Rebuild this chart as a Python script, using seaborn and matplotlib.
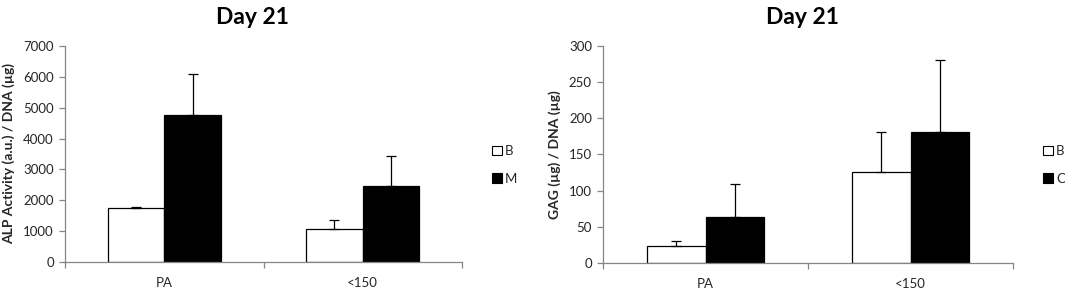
import matplotlib
matplotlib.use("Agg")
import matplotlib.pyplot as plt
from matplotlib.patches import Patch
import seaborn as sns
import pandas as pd
import numpy as np

sns.set_theme(style="white")
plt.rcParams['font.family'] = ['Lato', 'DejaVu Sans']

categories = ["PA", "<150"]

# Left panel: ALP
alp_groups = ["B", "M"]
alp_B = [1750, 1080]
alp_M = [4780, 2460]
alp_B_err = [30, 290]
alp_M_err = [1320, 980]

# Right panel: GAG
gag_groups = ["B", "C"]
gag_B = [23, 125]
gag_C = [63, 181]
gag_B_err = [7, 56]
gag_C_err = [46, 99]

title_text = "Day 21"
alp_ylabel = "ALP Activity (a.u.) / DNA (µg)"
gag_ylabel = "GAG (µg) / DNA (µg)"

W, H = 1065, 289
fig = plt.figure(figsize=(W / 100, H / 100), dpi=100)

def fx(px):
    return px / W

def fy(py):
    return 1 - py / H

gray = "#868686"
txt = "#262626"


def panel(rect, groups, vals, errs, ymax, ystep, ylabel, legend_x, label_x, title_x):
    ax = fig.add_axes(rect)
    rows = []
    for g, v in zip(groups, vals):
        for c, val in zip(categories, v):
            rows.append({"cat": c, "grp": g, "val": val})
    df = pd.DataFrame(rows)
    pal = {groups[0]: "white", groups[1]: "black"}
    sns.barplot(data=df, x="cat", y="val", hue="grp", order=categories,
                hue_order=groups, palette=pal, edgecolor="black", linewidth=0.9,
                width=0.57, errorbar=None, ax=ax, legend=False, saturation=1)
    for gi, g in enumerate(groups):
        cont = ax.containers[gi]
        for bi, bar in enumerate(cont):
            xc = bar.get_x() + bar.get_width() / 2
            top = bar.get_height()
            ax.errorbar([xc], [top], yerr=[[0], [errs[gi][bi]]], fmt="none",
                        ecolor="black", elinewidth=0.9, capsize=3.5, capthick=0.9)
    ax.set_xlim(-0.5, 1.5)
    ax.set_ylim(0, ymax)
    ax.set_yticks(np.arange(0, ymax + 1, ystep))
    ax.set_xlabel("")
    ax.set_ylabel("")
    for s in ["top", "right"]:
        ax.spines[s].set_visible(False)
    for s in ["left", "bottom"]:
        ax.spines[s].set_color(gray)
        ax.spines[s].set_linewidth(0.9)
    ax.tick_params(axis="y", which="major", left=True, length=4, width=0.9,
                   color=gray, labelsize=9.5, labelcolor=txt, pad=4)
    ax.tick_params(axis="x", which="major", bottom=False, length=0, labelsize=9.5,
                   labelcolor=txt, pad=10.5)
    ax.set_xticks([-0.5, 0.5, 1.5], minor=True)
    ax.tick_params(axis="x", which="minor", bottom=True, length=4, width=0.9, color=gray)
    ax.grid(False)
    fig.text(fx(label_x), (rect[1] + rect[1] + rect[3]) / 2, ylabel, rotation=90,
             ha="center", va="center", fontsize=10, fontweight="bold", color=txt)
    fig.text(fx(title_x), fy(18), title_text, ha="center", va="center",
             fontsize=16.5, fontweight="bold", color="black")
    handles = [Patch(facecolor=pal[g], edgecolor="black", linewidth=0.8) for g in groups]
    fig.legend(handles, groups, loc="center left",
               bbox_to_anchor=(fx(legend_x), fy(165)), frameon=False,
               handlelength=0.75, handleheight=0.75, handletextpad=0.25,
               labelspacing=1.2, fontsize=9.5, labelcolor=txt, borderpad=0,
               borderaxespad=0)
    return ax


panel([fx(65), fy(262), fx(462 - 65), (262 - 46) / H], alp_groups,
      [alp_B, alp_M], [alp_B_err, alp_M_err], 7000, 1000, alp_ylabel,
      492, 9, 252)
panel([fx(603), fy(263), fx(1013 - 603), (263 - 45.7) / H], gag_groups,
      [gag_B, gag_C], [gag_B_err, gag_C_err], 300, 50, gag_ylabel,
      1043, 555, 802)

fig.savefig("out.png", dpi=100)
